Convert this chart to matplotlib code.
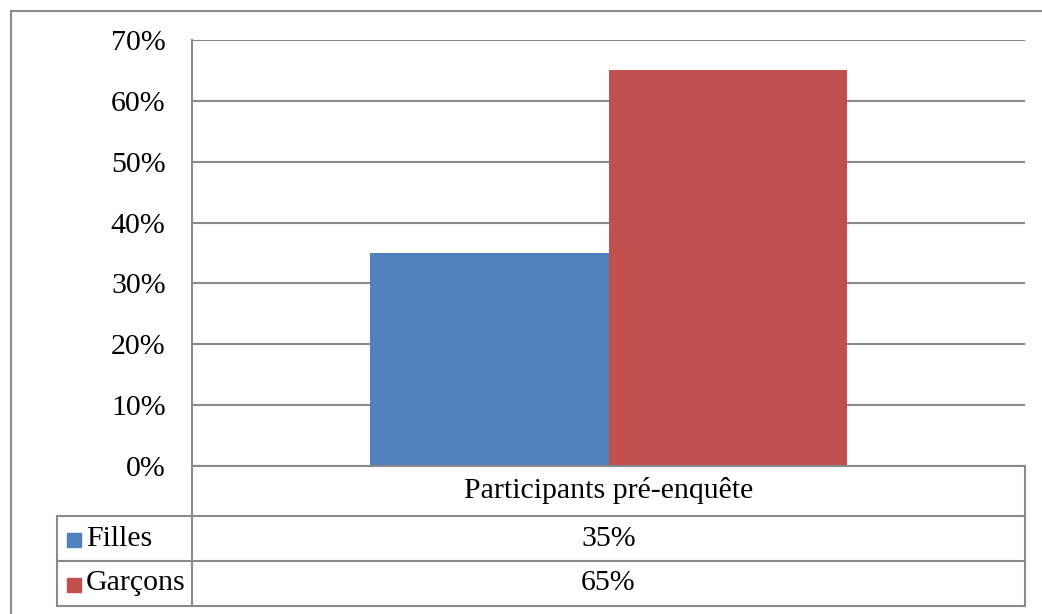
import matplotlib.pyplot as plt
from matplotlib.lines import Line2D
from matplotlib.patches import Rectangle
from matplotlib.ticker import PercentFormatter, MultipleLocator

plt.rcParams['font.family'] = ['Liberation Serif', 'DejaVu Serif']

category = 'Participants pré-enquête'
series = ['Filles', 'Garçons']
values = [0.35, 0.65]
colors = ['#4F81BD', '#C0504D']

W, H = 1042, 614
fig = plt.figure(figsize=(W / 100, H / 100), dpi=100)
GRAY = '#8a8a8a'
LW = 1.5
FS = 21.5


def fx(px):
    return px / W


def fy(py):
    return 1 - py / H


def hline(y, x0, x1):
    fig.add_artist(Line2D([fx(x0), fx(x1)], [fy(y), fy(y)], color=GRAY, lw=LW))


def vline(x, y0, y1):
    fig.add_artist(Line2D([fx(x), fx(x)], [fy(y0), fy(y1)], color=GRAY, lw=LW))


# outer chart frame
fig.add_artist(Rectangle((fx(11), fy(625)), fx(1045 - 11), fy(11) - fy(625),
                         fill=False, edgecolor=GRAY, lw=LW))

left, right, top, bottom = 192, 1025, 40, 466
ax = fig.add_axes([fx(left), fy(bottom), fx(right - left), fy(top) - fy(bottom)])

width = 0.286
offsets = [-width / 2, width / 2]
for name, val, off, c in zip(series, values, offsets, colors):
    ax.bar(off, val, width=width, color=c, zorder=3)

ax.set_xlim(-0.5, 0.5)
ax.set_ylim(0, 0.7)
ax.yaxis.set_major_locator(MultipleLocator(0.1))
ax.yaxis.set_major_formatter(PercentFormatter(1.0, decimals=0))
ax.grid(axis='y', color=GRAY, lw=LW, zorder=0)
ax.set_xticks([])
ax.tick_params(axis='y', length=0, pad=19, labelsize=FS)
for s in ['top', 'right', 'bottom', 'left']:
    ax.spines[s].set_visible(False)

# data table below the plot
row_y = [466, 516, 561, 606]
lx = 57
vline(left, top, row_y[-1])
vline(right, row_y[0], row_y[-1])
vline(lx, row_y[1], row_y[-1])
hline(row_y[0], left, right)
for y in row_y[1:]:
    hline(y, lx, right)

cx = fx((left + right) / 2)
fig.text(cx, fy((row_y[0] + row_y[1]) / 2), category, ha='center', va='center', fontsize=FS)
for i, (name, val, c) in enumerate(zip(series, values, colors)):
    yc = fy((row_y[i + 1] + row_y[i + 2]) / 2)
    fig.text(cx, yc, f'{val:.0%}', ha='center', va='center', fontsize=FS)
    fig.add_artist(Rectangle((fx(67), yc - 8 / H), fx(14), 14 / H, color=c))
    fig.text(fx(86), yc, name, ha='left', va='center', fontsize=FS)

fig.savefig('out.png', dpi=100)
